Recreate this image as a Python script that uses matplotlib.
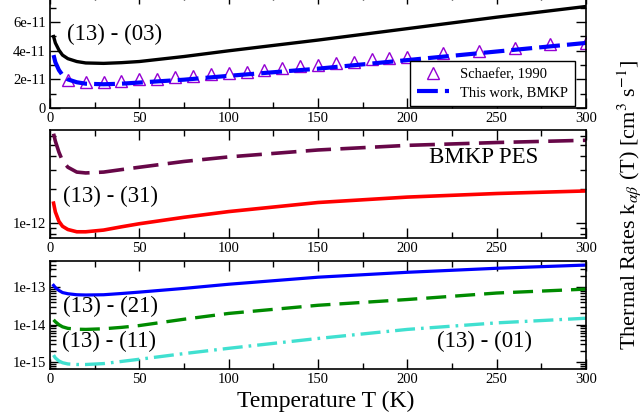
import numpy as np
import matplotlib
matplotlib.use('Agg')
import matplotlib.pyplot as plt
from matplotlib.ticker import MultipleLocator, FixedLocator, FuncFormatter, NullFormatter

plt.rcParams['font.family'] = ['Liberation Serif', 'DejaVu Serif']
plt.rcParams['mathtext.fontset'] = 'stix'

# ── data ────────────────────────────────
T = [2, 3, 5, 7, 10, 15, 20, 30, 40, 50, 75, 100, 150, 200, 250, 300]

k_03 = [5.0, 4.55, 4.05, 3.7, 3.45, 3.25, 3.15, 3.12, 3.17, 3.25, 3.6, 4.0, 4.75, 5.55, 6.35, 7.1]          # x1e-11
k_bmkp = [3.7, 3.2, 2.65, 2.3, 2.0, 1.8, 1.7, 1.66, 1.7, 1.78, 1.98, 2.25, 2.75, 3.35, 3.95, 4.55]        # x1e-11

T_schaefer = [10, 20, 30, 40, 50, 60, 70, 80, 90, 100, 110, 120, 130, 140, 150, 160, 170,
              180, 190, 200, 220, 240, 260, 280, 300]
k_schaefer = [1.96, 1.84, 1.84, 1.89, 2.0, 2.0, 2.15, 2.24, 2.38, 2.43, 2.54, 2.66, 2.78,
              2.96, 3.0, 3.12, 3.24, 3.41, 3.47, 3.59, 3.83, 4.01, 4.22, 4.45, 4.57]   # x1e-11

k_pes = [6.3, 5.4, 4.3, 3.6, 3.15, 2.85, 2.8, 2.85, 3.0, 3.15, 3.55, 3.9, 4.5, 4.95, 5.25, 5.5]         # x1e-12
k_31 = [1.5, 1.25, 1.03, 0.93, 0.87, 0.83, 0.83, 0.86, 0.92, 0.98, 1.12, 1.26, 1.52, 1.7, 1.83, 1.93]   # x1e-12

k_21 = [1.12, 0.98, 0.82, 0.72, 0.67, 0.63, 0.62, 0.63, 0.68, 0.74, 0.93, 1.2, 1.85, 2.5, 3.2, 3.9]     # x1e-13
k_11 = [1.35, 1.2, 1.0, 0.88, 0.8, 0.76, 0.75, 0.78, 0.85, 0.95, 1.4, 2.0, 3.3, 4.7, 7.0, 8.9]          # x1e-14
k_01 = [1.55, 1.3, 1.08, 0.97, 0.9, 0.87, 0.87, 0.92, 1.05, 1.2, 1.7, 2.35, 4.3, 7.5, 11.2, 14.9]        # x1e-15

fig = plt.figure(figsize=(6.43, 4.19), dpi=100)

L, W, H = 50/643, 536/643, 108/419
ax1 = fig.add_axes([L, 1 - 108/419, W, 114.4/419])
ax2 = fig.add_axes([L, 1 - 238/419, W, H])
ax3 = fig.add_axes([L, 1 - 369/419, W, H])

def style(ax):
    ax.set_xlim(0, 300)
    ax.xaxis.set_major_locator(MultipleLocator(50))
    ax.xaxis.set_minor_locator(MultipleLocator(25))
    ax.tick_params(which='both', direction='in', top=True, right=True, labelsize=10.5, pad=3)
    ax.tick_params(which='major', length=7, width=1)
    ax.tick_params(which='minor', length=4, width=1)
    for s in ax.spines.values():
        s.set_linewidth(1.2)

def sci(v, pos):
    if abs(v) < 1e-30:
        return '0'
    e = int(np.floor(np.log10(v) + 1e-9))
    m = v / 10**e
    return f'{m:.0f}e{e}'

def log_ticks(ax, lo, hi):
    major = [10.0**e for e in range(lo, hi + 1)]
    minor = [m * 10.0**e for e in range(lo - 1, hi + 1) for m in range(2, 10)]
    ax.yaxis.set_major_locator(FixedLocator(major))
    ax.yaxis.set_minor_locator(FixedLocator(minor))
    ax.yaxis.set_major_formatter(FuncFormatter(sci))
    ax.yaxis.set_minor_formatter(NullFormatter())

# ── top panel ─────────
style(ax1)
ax1.plot(T, np.array(k_03)*1e-11, color='black', lw=2.4)
ax1.plot(T_schaefer, np.array(k_schaefer)*1e-11, ls='none', marker='^', ms=9,
         mfc='none', mec='#9400d3', mew=1, label='Schaefer, 1990')
ax1.plot(T, np.array(k_bmkp)*1e-11, color='#0000ff', lw=3, dashes=(5, 1.7),
         label='This work, BMKP')
ax1.set_ylim(0, 8e-11)
ax1.yaxis.set_major_locator(FixedLocator([0, 2e-11, 4e-11, 6e-11]))
ax1.yaxis.set_minor_locator(FixedLocator([1e-11, 3e-11, 5e-11, 7e-11]))
ax1.yaxis.set_major_formatter(FuncFormatter(sci))
ax1.text(9.5, 5.15e-11, '(13) - (03)', fontsize=16.5, va='center')
leg = ax1.legend(loc='lower right', bbox_to_anchor=(0.9795, 0.017), fontsize=10.5,
                 fancybox=False, edgecolor='black', framealpha=1, borderpad=0.45,
                 handlelength=2.2, labelspacing=0.35, borderaxespad=0)
leg.get_frame().set_linewidth(1)

# ── middle panel ─────────
style(ax2)
ax2.plot(T, np.array(k_pes)*1e-12, color='#670748', lw=2.6, dashes=(7, 2.6))
ax2.plot(T, np.array(k_31)*1e-12, color='#ff0000', lw=2.6)
ax2.set_yscale('log')
ax2.set_ylim(7.3e-13, 6.8e-12)
log_ticks(ax2, -12, -12)
ax2.text(7.5, 1.71e-12, '(13) - (31)', fontsize=16.5, va='center')
ax2.text(212, 3.85e-12, 'BMKP PES', fontsize=16.5, va='center')

# ── bottom panel ─────────
style(ax3)
ax3.plot(T, np.array(k_21)*1e-13, color='#0000ff', lw=2.3)
ax3.plot(T, np.array(k_11)*1e-14, color='#008b00', lw=2.4, dashes=(6, 2.7))
ax3.plot(T, np.array(k_01)*1e-15, color='#40e0d0', lw=2.4, dashes=(6, 1.8, 0.8, 1.8))
ax3.set_yscale('log')
ax3.set_ylim(6.6e-16, 5e-13)
log_ticks(ax3, -15, -13)
ax3.text(7.5, 3.04e-14, '(13) - (21)', fontsize=16.5, va='center')
ax3.text(6.5, 3.55e-15, '(13) - (11)', fontsize=16.5, va='center')
ax3.text(216.5, 3.55e-15, '(13) - (01)', fontsize=16.5, va='center')

fig.text(0.506, 0.043, 'Temperature T (K)', fontsize=17, ha='center', va='center')
fig.text(0.978, 0.51, r'Thermal Rates k$_{\alpha\beta}$ (T) [cm$^{3}$ s$^{-1}$]',
         fontsize=16, rotation=90, ha='center', va='center')

fig.savefig('out.png', dpi=100)
